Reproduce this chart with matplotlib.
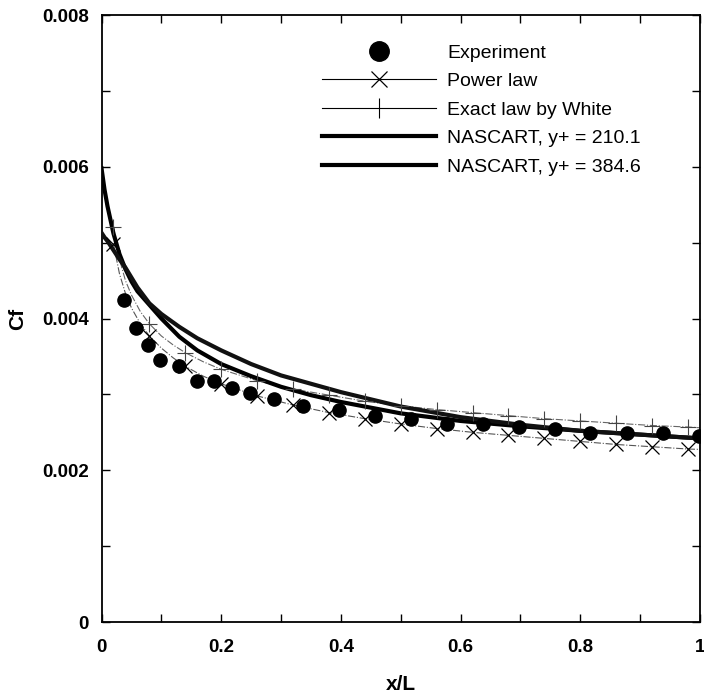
import matplotlib
matplotlib.use("Agg")
import matplotlib.pyplot as plt
from matplotlib.lines import Line2D
from matplotlib.ticker import MultipleLocator, FuncFormatter

plt.rcParams["font.family"] = ["Liberation Sans", "DejaVu Sans"]

# Experiment (filled circles)
exp_x = [0.038, 0.058, 0.078, 0.098, 0.129, 0.159, 0.188, 0.218, 0.248, 0.288,
         0.337, 0.397, 0.457, 0.517, 0.577, 0.637, 0.697, 0.757, 0.817, 0.878,
         0.938, 0.998]
exp_cf = [0.00425, 0.00387, 0.00365, 0.00345, 0.00338, 0.00318, 0.00318, 0.00309,
          0.00302, 0.00294, 0.00285, 0.00279, 0.00271, 0.00268, 0.00261, 0.00261,
          0.00257, 0.00255, 0.00249, 0.00249, 0.00249, 0.00245]

# Power law and White's law share the same x stations
law_x = [0.02, 0.03, 0.04, 0.05, 0.065, 0.08, 0.1, 0.12, 0.14, 0.17, 0.2, 0.26,
         0.32, 0.38, 0.44, 0.5, 0.56, 0.62, 0.68, 0.74, 0.8, 0.86, 0.92, 0.98, 1.0]
power_cf = [0.00498, 0.00459, 0.00433, 0.00414, 0.00393, 0.00377, 0.00361, 0.00348,
            0.00337, 0.00324, 0.00314, 0.00298, 0.00286, 0.00276, 0.00268, 0.00261,
            0.00255, 0.00250, 0.00246, 0.00242, 0.00238, 0.00234, 0.00231, 0.00228,
            0.002275]
white_cf = [0.00521, 0.00478, 0.00450, 0.00431, 0.00409, 0.00393, 0.00377, 0.00365,
            0.00355, 0.00343, 0.00333, 0.00318, 0.00307, 0.00299, 0.00291, 0.00285,
            0.00280, 0.00276, 0.00272, 0.00268, 0.00265, 0.00262, 0.00259, 0.00257,
            0.00256]
law_mark_x = [0.02, 0.08, 0.14, 0.2, 0.26, 0.32, 0.38, 0.44, 0.5, 0.56, 0.62, 0.68,
              0.74, 0.8, 0.86, 0.92, 0.98]

# NASCART runs
nas_x = [0, 0.005, 0.01, 0.02, 0.03, 0.04, 0.05, 0.06, 0.08, 0.1, 0.13, 0.16, 0.2,
         0.25, 0.3, 0.35, 0.4, 0.5, 0.6, 0.7, 0.8, 0.9, 1.0]
nas_210 = [0.00598, 0.00570, 0.00548, 0.00512, 0.00485, 0.00465, 0.00449, 0.00436,
           0.00418, 0.00400, 0.00376, 0.00358, 0.00340, 0.00324, 0.00310, 0.00299,
           0.00290, 0.00275, 0.00265, 0.00258, 0.00252, 0.00247, 0.00242]
nas_385 = [0.00513, 0.00507, 0.00502, 0.00490, 0.00478, 0.00467, 0.00454, 0.00441,
           0.00420, 0.00406, 0.00389, 0.00374, 0.00358, 0.00340, 0.00325, 0.00314,
           0.00303, 0.00284, 0.00270, 0.00260, 0.00252, 0.00247, 0.00242]

labels = ["Experiment", "Power law", "Exact law by White",
          "NASCART, y+ = 210.1", "NASCART, y+ = 384.6"]

fig = plt.figure(figsize=(7.04, 6.95), dpi=100)
ax = fig.add_axes([0.1442, 0.105, 0.8501, 0.8734])

mark_idx = [law_x.index(v) for v in law_mark_x]

ax.plot(nas_x, nas_210, color="black", lw=3.0, zorder=3)
ax.plot(nas_x, nas_385, color="#111111", lw=3.0, zorder=3)
ax.plot(law_x, power_cf, color="#555555", lw=0.8, ls="-.", zorder=2)
ax.plot([law_x[i] for i in mark_idx], [power_cf[i] for i in mark_idx],
        ls="none", marker="x", ms=10, mew=0.9, color="black", zorder=4)
ax.plot(law_x, white_cf, color="#666666", lw=0.8, ls="-.", zorder=2)
ax.plot([law_x[i] for i in mark_idx], [white_cf[i] for i in mark_idx],
        ls="none", marker="+", ms=11, mew=0.8, color="#444444", zorder=4)
ax.plot(exp_x, exp_cf, ls="none", marker="o", ms=9.5, color="black", zorder=5)

ax.set_xlim(0, 1)
ax.set_ylim(0, 0.008)
ax.xaxis.set_major_locator(MultipleLocator(0.2))
ax.xaxis.set_minor_locator(MultipleLocator(0.1))
ax.yaxis.set_major_locator(MultipleLocator(0.002))
ax.yaxis.set_minor_locator(MultipleLocator(0.001))
fmt = FuncFormatter(lambda v, p: "%g" % round(v, 6))
ax.xaxis.set_major_formatter(fmt)
ax.yaxis.set_major_formatter(fmt)
ax.tick_params(which="both", direction="in", top=True, right=True,
               length=6, width=1.0, color="black")
ax.tick_params(axis="x", which="major", pad=12, labelsize=13.5)
ax.tick_params(axis="y", which="major", pad=9, labelsize=13.5)
for lab in ax.get_xticklabels() + ax.get_yticklabels():
    lab.set_fontweight("bold")
for sp in ax.spines.values():
    sp.set_linewidth(1.3)

ax.set_xlabel("x/L", fontsize=15, fontweight="bold", labelpad=14)
ax.set_ylabel("Cf", fontsize=15, fontweight="bold", labelpad=11)

handles = [
    Line2D([], [], ls="none", marker="o", ms=14, color="black"),
    Line2D([], [], color="black", lw=0.8, marker="x", ms=12, mew=0.9),
    Line2D([], [], color="black", lw=0.8, marker="|", ms=14, mew=0.8),
    Line2D([], [], color="black", lw=3.0),
    Line2D([], [], color="black", lw=3.0),
]
ax.legend(handles, labels, loc="upper left", bbox_to_anchor=(0.368, 0.952),
          frameon=False, fontsize=14, handlelength=5.9, handletextpad=0.55,
          labelspacing=0.56, borderpad=0, borderaxespad=0, numpoints=1)

fig.savefig("out.png", dpi=100)
